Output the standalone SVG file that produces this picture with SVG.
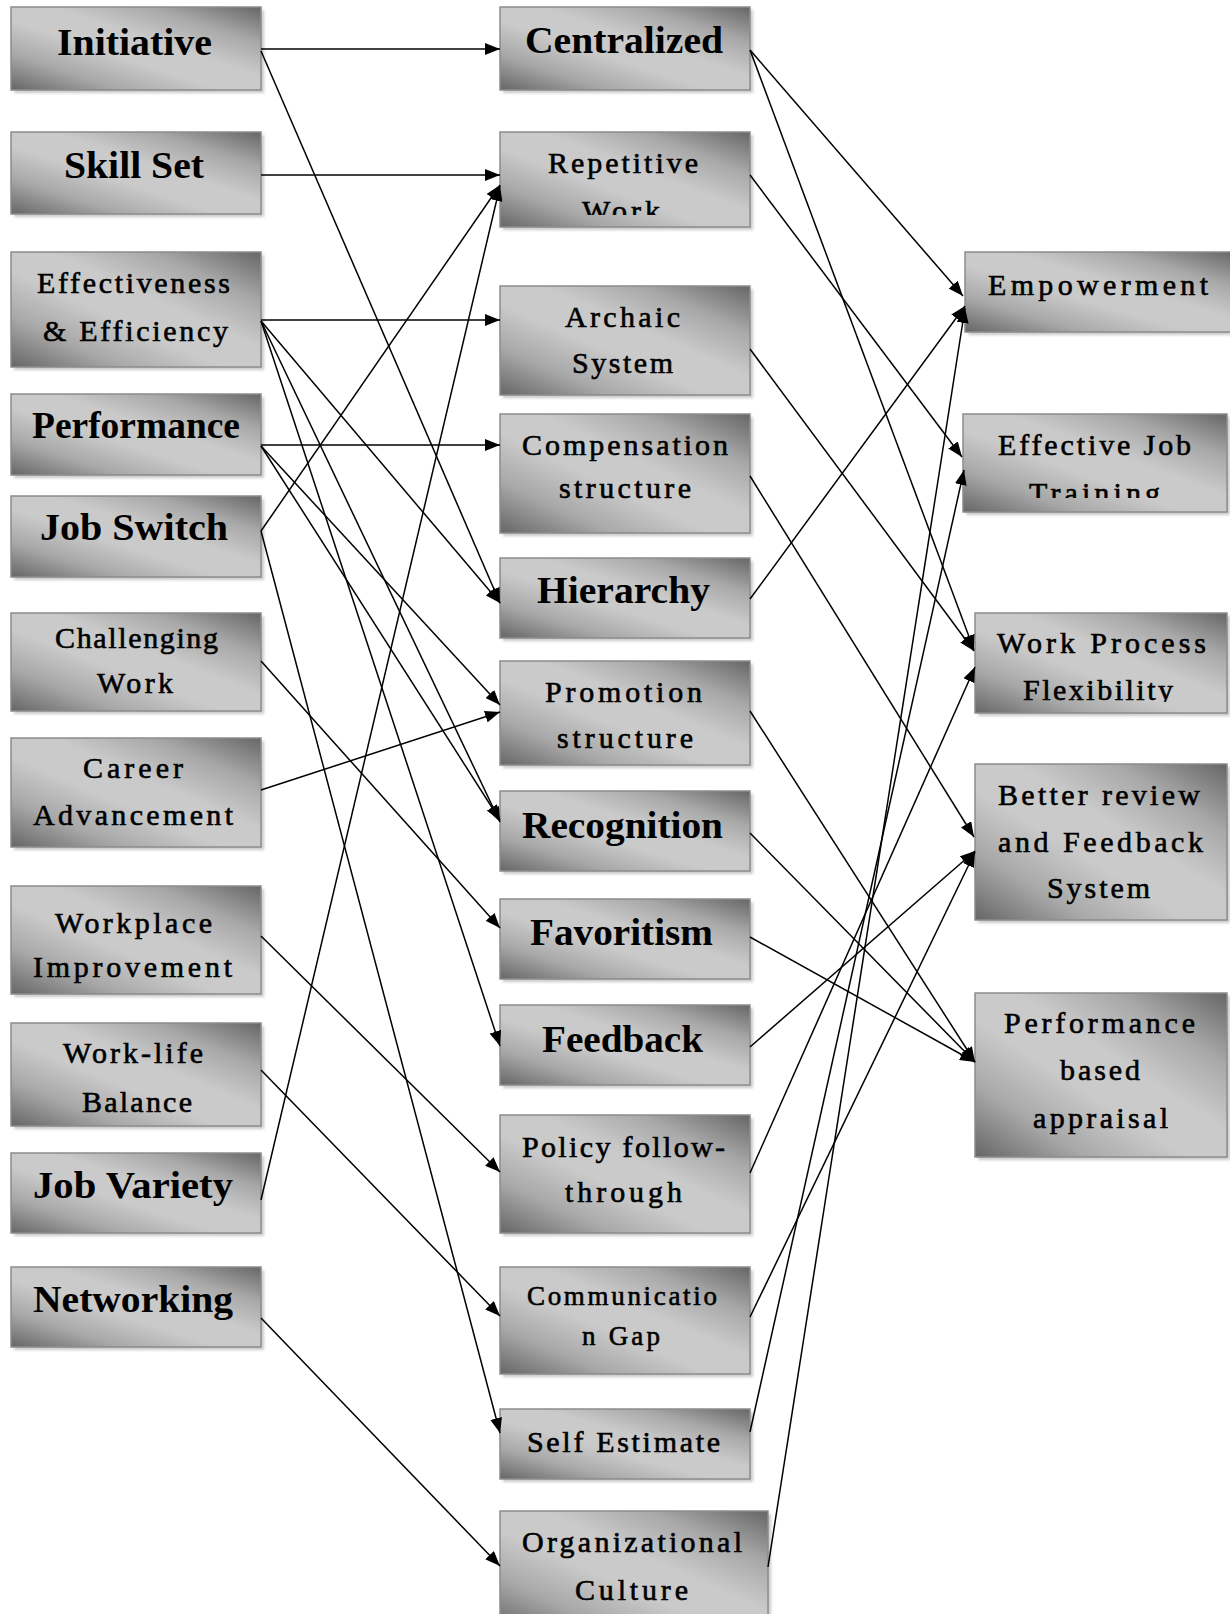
<svg xmlns="http://www.w3.org/2000/svg" width="1230" height="1614" viewBox="0 0 1230 1614">
<defs>
<linearGradient id="g" x1="1" y1="0" x2="0" y2="1">
<stop offset="0" stop-color="#666"/>
<stop offset="0.22" stop-color="#a8a8a8"/>
<stop offset="0.42" stop-color="#cacaca"/>
<stop offset="0.58" stop-color="#cacaca"/>
<stop offset="0.78" stop-color="#a8a8a8"/>
<stop offset="1" stop-color="#666"/>
</linearGradient>
<filter id="blur" x="-5%" y="-10%" width="115%" height="125%"><feGaussianBlur stdDeviation="1.6"/></filter>
<marker id="ah" markerWidth="16" markerHeight="12" refX="15" refY="6" orient="auto" markerUnits="userSpaceOnUse"><path d="M0,0 L15,6 L0,12 z" fill="#000"/></marker>
<clipPath id="c1"><rect x="500" y="130" width="250" height="85"/></clipPath>
<clipPath id="c2"><rect x="963" y="410" width="264" height="88"/></clipPath>
<clipPath id="c3"><rect x="975" y="610" width="252" height="92"/></clipPath>
</defs>
<style>
.sh{fill:#9c9c9c;opacity:.55;filter:url(#blur)}
.bx{fill:url(#g);stroke:#8c8c8c;stroke-width:1.5}
.t{font-family:"Liberation Serif","Times New Roman",serif;font-size:30px;fill:#000;stroke:#000;stroke-width:.6}
.b{font-family:"Liberation Serif","Times New Roman",serif;font-size:38px;font-weight:bold;fill:#000}
#connectors line{stroke:#000;stroke-width:1.5;marker-end:url(#ah)}
</style>
<rect width="1230" height="1614" fill="#fff"/>

<g id="n-initiative"><rect class="sh" x="14" y="10" width="250" height="83"/><rect class="bx" x="11" y="7" width="250" height="83"/><text class="b" x="57" y="55" textLength="155" lengthAdjust="spacingAndGlyphs">Initiative</text></g>
<g id="n-skillset"><rect class="sh" x="14" y="135" width="250" height="82"/><rect class="bx" x="11" y="132" width="250" height="82"/><text class="b" x="64" y="178" textLength="140" lengthAdjust="spacingAndGlyphs">Skill Set</text></g>
<g id="n-effectiveness"><rect class="sh" x="14" y="255" width="250" height="115"/><rect class="bx" x="11" y="252" width="250" height="115"/><text class="t" x="37" y="293" textLength="193">Effectiveness</text><text class="t" x="43" y="341" textLength="185">&amp; Efficiency</text></g>
<g id="n-performance"><rect class="sh" x="14" y="397" width="250" height="81"/><rect class="bx" x="11" y="394" width="250" height="81"/><text class="b" x="32" y="438" textLength="208" lengthAdjust="spacingAndGlyphs">Performance</text></g>
<g id="n-jobswitch"><rect class="sh" x="14" y="499" width="250" height="81"/><rect class="bx" x="11" y="496" width="250" height="81"/><text class="b" x="40" y="540" textLength="188" lengthAdjust="spacingAndGlyphs">Job Switch</text></g>
<g id="n-challenging"><rect class="sh" x="14" y="616" width="250" height="98"/><rect class="bx" x="11" y="613" width="250" height="98"/><text class="t" x="55" y="648" textLength="163">Challenging</text><text class="t" x="97" y="693" textLength="76">Work</text></g>
<g id="n-career"><rect class="sh" x="14" y="741" width="250" height="109"/><rect class="bx" x="11" y="738" width="250" height="109"/><text class="t" x="83" y="778" textLength="100">Career</text><text class="t" x="33" y="825" textLength="200">Advancement</text></g>
<g id="n-workplace"><rect class="sh" x="14" y="889" width="250" height="108"/><rect class="bx" x="11" y="886" width="250" height="108"/><text class="t" x="55" y="933" textLength="157">Workplace</text><text class="t" x="33" y="977" textLength="199">Improvement</text></g>
<g id="n-worklife"><rect class="sh" x="14" y="1026" width="250" height="103"/><rect class="bx" x="11" y="1023" width="250" height="103"/><text class="t" x="63" y="1063" textLength="140">Work-life</text><text class="t" x="82" y="1112" textLength="110">Balance</text></g>
<g id="n-jobvariety"><rect class="sh" x="14" y="1156" width="250" height="80"/><rect class="bx" x="11" y="1153" width="250" height="80"/><text class="b" x="33" y="1198" textLength="200" lengthAdjust="spacingAndGlyphs">Job Variety</text></g>
<g id="n-networking"><rect class="sh" x="14" y="1270" width="250" height="80"/><rect class="bx" x="11" y="1267" width="250" height="80"/><text class="b" x="33" y="1312" textLength="200" lengthAdjust="spacingAndGlyphs">Networking</text></g>

<g id="n-centralized"><rect class="sh" x="503" y="10" width="250" height="83"/><rect class="bx" x="500" y="7" width="250" height="83"/><text class="b" x="525" y="53" textLength="198" lengthAdjust="spacingAndGlyphs">Centralized</text></g>
<g id="n-repetitive"><rect class="sh" x="503" y="135" width="250" height="95"/><rect class="bx" x="500" y="132" width="250" height="95"/><text class="t" x="548" y="173" textLength="150">Repetitive</text><text class="t" x="582" y="221" textLength="78" clip-path="url(#c1)">Work</text></g>
<g id="n-archaic"><rect class="sh" x="503" y="289" width="250" height="109"/><rect class="bx" x="500" y="286" width="250" height="109"/><text class="t" x="565" y="327" textLength="115">Archaic</text><text class="t" x="572" y="373" textLength="101">System</text></g>
<g id="n-compensation"><rect class="sh" x="503" y="417" width="250" height="119"/><rect class="bx" x="500" y="414" width="250" height="119"/><text class="t" x="522" y="455" textLength="206">Compensation</text><text class="t" x="559" y="498" textLength="132">structure</text></g>
<g id="n-hierarchy"><rect class="sh" x="503" y="561" width="250" height="80"/><rect class="bx" x="500" y="558" width="250" height="80"/><text class="b" x="537" y="603" textLength="173" lengthAdjust="spacingAndGlyphs">Hierarchy</text></g>
<g id="n-promotion"><rect class="sh" x="503" y="664" width="250" height="104"/><rect class="bx" x="500" y="661" width="250" height="104"/><text class="t" x="545" y="702" textLength="157">Promotion</text><text class="t" x="557" y="748" textLength="136">structure</text></g>
<g id="n-recognition"><rect class="sh" x="503" y="794" width="250" height="80"/><rect class="bx" x="500" y="791" width="250" height="80"/><text class="b" x="522" y="838" textLength="201" lengthAdjust="spacingAndGlyphs">Recognition</text></g>
<g id="n-favoritism"><rect class="sh" x="503" y="902" width="250" height="80"/><rect class="bx" x="500" y="899" width="250" height="80"/><text class="b" x="530" y="945" textLength="183" lengthAdjust="spacingAndGlyphs">Favoritism</text></g>
<g id="n-feedback"><rect class="sh" x="503" y="1008" width="250" height="80"/><rect class="bx" x="500" y="1005" width="250" height="80"/><text class="b" x="542" y="1052" textLength="161" lengthAdjust="spacingAndGlyphs">Feedback</text></g>
<g id="n-policy"><rect class="sh" x="503" y="1118" width="250" height="118"/><rect class="bx" x="500" y="1115" width="250" height="118"/><text class="t" x="522" y="1157" textLength="203">Policy follow-</text><text class="t" x="565" y="1202" textLength="117">through</text></g>
<g id="n-communication"><rect class="sh" x="503" y="1270" width="250" height="107"/><rect class="bx" x="500" y="1267" width="250" height="107"/><text class="t" x="527" y="1305" textLength="190" style="font-size:27px">Communicatio</text><text class="t" x="582" y="1345" textLength="78" style="font-size:27px">n Gap</text></g>
<g id="n-selfestimate"><rect class="sh" x="503" y="1412" width="250" height="70"/><rect class="bx" x="500" y="1409" width="250" height="70"/><text class="t" x="527" y="1452" textLength="193">Self Estimate</text></g>
<g id="n-orgculture"><rect class="sh" x="503" y="1514" width="268" height="120"/><rect class="bx" x="500" y="1511" width="268" height="120"/><text class="t" x="522" y="1552" textLength="220">Organizational</text><text class="t" x="575" y="1600" textLength="113">Culture</text></g>

<g id="n-empowerment"><rect class="sh" x="968" y="255" width="270" height="80"/><rect class="bx" x="965" y="252" width="270" height="80"/><text class="t" x="988" y="295" textLength="220">Empowerment</text></g>
<g id="n-training"><rect class="sh" x="966" y="417" width="264" height="98"/><rect class="bx" x="963" y="414" width="264" height="98"/><text class="t" x="998" y="455" textLength="193">Effective Job</text><text class="t" x="1029" y="503" textLength="131" clip-path="url(#c2)">Training</text></g>
<g id="n-flexibility"><rect class="sh" x="978" y="616" width="252" height="100"/><rect class="bx" x="975" y="613" width="252" height="100"/><text class="t" x="997" y="653" textLength="209">Work Process</text><text class="t" x="1023" y="700" textLength="150" clip-path="url(#c3)">Flexibility</text></g>
<g id="n-review"><rect class="sh" x="978" y="767" width="252" height="156"/><rect class="bx" x="975" y="764" width="252" height="156"/><text class="t" x="998" y="805" textLength="202">Better review</text><text class="t" x="998" y="852" textLength="205">and Feedback</text><text class="t" x="1047" y="898" textLength="103">System</text></g>
<g id="n-appraisal"><rect class="sh" x="978" y="996" width="252" height="164"/><rect class="bx" x="975" y="993" width="252" height="164"/><text class="t" x="1004" y="1033" textLength="191">Performance</text><text class="t" x="1060" y="1080" textLength="80">based</text><text class="t" x="1033" y="1128" textLength="135">appraisal</text></g>

<g id="connectors">
<line x1="261" y1="49" x2="500" y2="49"/>
<line x1="261" y1="51" x2="500" y2="603"/>
<line x1="261" y1="175" x2="500" y2="175"/>
<line x1="261" y1="320" x2="500" y2="320"/>
<line x1="261" y1="321" x2="500" y2="603"/>
<line x1="261" y1="321" x2="500" y2="822"/>
<line x1="261" y1="321" x2="500" y2="1046"/>
<line x1="261" y1="445" x2="500" y2="445"/>
<line x1="261" y1="446" x2="500" y2="705"/>
<line x1="261" y1="446" x2="500" y2="820"/>
<line x1="261" y1="531" x2="500" y2="185"/>
<line x1="261" y1="531" x2="500" y2="1433"/>
<line x1="261" y1="661" x2="500" y2="928"/>
<line x1="261" y1="790" x2="500" y2="712"/>
<line x1="261" y1="936" x2="500" y2="1172"/>
<line x1="261" y1="1070" x2="500" y2="1316"/>
<line x1="261" y1="1200" x2="500" y2="186"/>
<line x1="261" y1="1318" x2="500" y2="1566"/>
<line x1="750" y1="50" x2="963" y2="296"/>
<line x1="750" y1="50" x2="974" y2="650"/>
<line x1="750" y1="175" x2="962" y2="457"/>
<line x1="750" y1="349" x2="974" y2="651"/>
<line x1="750" y1="476" x2="974" y2="837"/>
<line x1="750" y1="599" x2="965" y2="306"/>
<line x1="750" y1="711" x2="975" y2="1062"/>
<line x1="750" y1="833" x2="975" y2="1062"/>
<line x1="750" y1="937" x2="975" y2="1062"/>
<line x1="750" y1="1047" x2="975" y2="851"/>
<line x1="750" y1="1173" x2="975" y2="667"/>
<line x1="750" y1="1317" x2="975" y2="852"/>
<line x1="750" y1="1432" x2="964" y2="470"/>
<line x1="768" y1="1567" x2="965" y2="308"/>
</g>
</svg>
